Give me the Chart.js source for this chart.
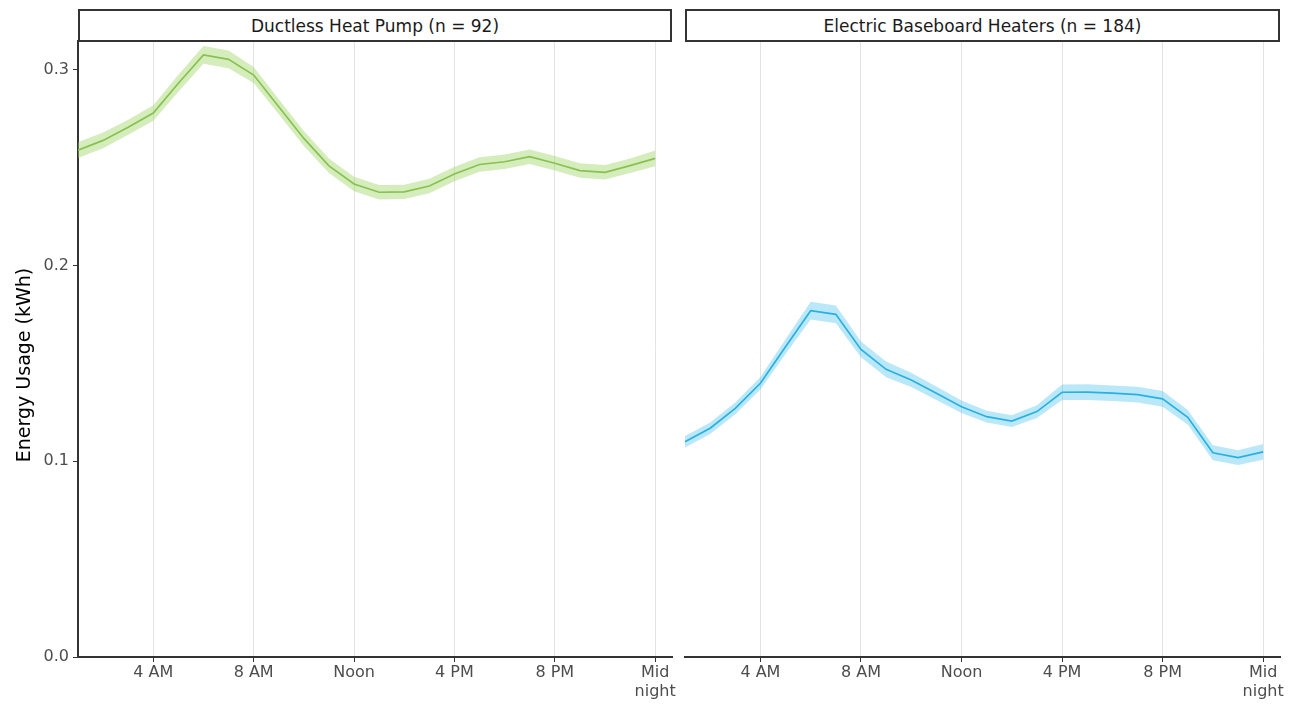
<!DOCTYPE html>
<html>
<head>
<meta charset="utf-8">
<script src="https://cdn.jsdelivr.net/npm/chart.js@4"></script>
<style>
  html, body { margin:0; padding:0; background:#fff; width:1299px; height:704px; overflow:hidden; }
  .wrap { position:absolute; top:0; height:704px; }
  .strip { position:absolute; top:9px; height:29px; border:2px solid #333; background:#fff;
           font-family:"DejaVu Sans", sans-serif; font-size:17px; color:#1a1a1a;
           display:flex; align-items:center; justify-content:center; box-sizing:content-box; }
</style>
</head>
<body>
<div class="wrap" style="left:0;width:680px;"><canvas id="c1" width="680" height="704"></canvas></div>
<div class="wrap" style="left:680px;width:619px;"><canvas id="c2" width="619" height="704"></canvas></div>
<div class="strip" id="s1" style="left:78px;width:590px;"></div>
<div class="strip" id="s2" style="left:685px;width:591px;"></div>
<script>
// ---- data ----
const panelTitles = ["Ductless Heat Pump (n = 92)", "Electric Baseboard Heaters (n = 184)"];
const yTitle = "Energy Usage (kWh)";
const hours = [1,2,3,4,5,6,7,8,9,10,11,12,13,14,15,16,17,18,19,20,21,22,23,24];
const tickHours = [4, 8, 12, 16, 20, 24];
const tickLabels = ["4 AM", "8 AM", "Noon", "4 PM", "8 PM", ["Mid", "night"]];
const yTicks = [0, 0.1, 0.2, 0.3];

const heatPumpMean  = [0.259,0.264,0.2707,0.278,0.2932,0.3077,0.3054,0.2974,0.2812,0.265,0.251,0.2417,0.2375,0.2377,0.2407,0.2468,0.2517,0.2531,0.2557,0.2523,0.2486,0.2477,0.2511,0.2548];
const heatPumpUpper = [0.263,0.268,0.2745,0.282,0.2975,0.3122,0.3099,0.3015,0.285,0.2688,0.2547,0.2454,0.2412,0.2414,0.2444,0.2505,0.2554,0.2568,0.2594,0.256,0.2523,0.2514,0.2548,0.2588];
const heatPumpLower = [0.255,0.260,0.2669,0.274,0.2889,0.3032,0.3009,0.2933,0.2774,0.2612,0.2473,0.238,0.2338,0.234,0.237,0.2431,0.248,0.2494,0.252,0.2486,0.2449,0.244,0.2474,0.2508];

const baseboardMean  = [0.110,0.1169,0.1271,0.1399,0.1586,0.177,0.1751,0.1572,0.147,0.1416,0.1348,0.1279,0.1228,0.1206,0.1254,0.1353,0.1354,0.1348,0.1341,0.1319,0.1225,0.1044,0.1019,0.1048];
const baseboardUpper = [0.113,0.1199,0.1301,0.1431,0.1624,0.1815,0.1796,0.1612,0.151,0.1452,0.1382,0.1311,0.1258,0.1236,0.1286,0.1393,0.1394,0.1388,0.1381,0.1359,0.1262,0.1082,0.1057,0.1088];
const baseboardLower = [0.107,0.1139,0.1241,0.1367,0.1548,0.1725,0.1706,0.1532,0.143,0.138,0.1314,0.1247,0.1198,0.1176,0.1222,0.1313,0.1314,0.1308,0.1301,0.1279,0.1188,0.1006,0.0981,0.1008];

document.getElementById('s1').textContent = panelTitles[0];
document.getElementById('s2').textContent = panelTitles[1];

const FONT = '"DejaVu Sans", sans-serif';
const pts = arr => hours.map((h, i) => ({x: h, y: arr[i]}));

const yTitlePlugin = {
  id: 'yTitlePlugin',
  afterDraw(chart, args, opts) {
    if (!opts.show) return;
    const ctx = chart.ctx;
    ctx.save();
    ctx.translate(25, 365);
    ctx.rotate(-Math.PI / 2);
    ctx.font = '19px ' + FONT;
    ctx.fillStyle = '#000';
    ctx.textAlign = 'center';
    ctx.textBaseline = 'middle';
    ctx.fillText(yTitle, 0, 0);
    ctx.restore();
  }
};

function makeChart(id, mean, upper, lower, lineColor, ribbonColor, showY, padding) {
  return new Chart(document.getElementById(id), {
    type: 'line',
    data: {
      datasets: [
        { data: pts(upper), borderWidth: 0, pointRadius: 0, fill: false, backgroundColor: ribbonColor, borderColor: 'transparent' },
        { data: pts(lower), borderWidth: 0, pointRadius: 0, fill: '-1', backgroundColor: ribbonColor, borderColor: 'transparent' },
        { data: pts(mean), borderWidth: 1.7, pointRadius: 0, fill: false, borderColor: lineColor }
      ]
    },
    plugins: [yTitlePlugin],
    options: {
      responsive: false,
      animation: false,
      layout: { padding: padding },
      plugins: { legend: { display: false }, tooltip: { enabled: false }, yTitlePlugin: { show: showY } },
      scales: {
        x: {
          type: 'linear', min: 1, max: 24.67,
          afterBuildTicks: s => { s.ticks = tickHours.map(v => ({value: v})); },
          afterFit: s => { s.height = 47; },
          ticks: {
            autoSkip: false, maxRotation: 0, padding: 1,
            font: { family: FONT, size: 16, lineHeight: 1.2 }, color: '#4d4d4d',
            callback: (v) => tickLabels[tickHours.indexOf(v)]
          },
          grid: { color: '#e3e3e3', lineWidth: 1, drawTicks: true, tickLength: 5, tickColor: '#333' },
          border: { display: true, color: '#333', width: 2 }
        },
        y: {
          display: showY,
          min: 0, max: 0.3148,
          afterBuildTicks: s => { s.ticks = yTicks.map(v => ({value: v})); },
          afterFit: s => { if (showY) s.width = 78; },
          ticks: {
            font: { family: FONT, size: 16 }, color: '#4d4d4d', padding: 4,
            callback: v => v.toFixed(1)
          },
          grid: { drawOnChartArea: false, drawTicks: true, tickLength: 5, tickColor: '#333' },
          border: { display: true, color: '#333', width: 2 }
        }
      }
    }
  });
}

makeChart('c1', heatPumpMean, heatPumpUpper, heatPumpLower, '#79b443', 'rgba(155,212,95,0.42)', true,
          { top: 41, left: 0, right: 8, bottom: 0 });
makeChart('c2', baseboardMean, baseboardUpper, baseboardLower, '#1ea8da', 'rgba(64,190,236,0.36)', false,
          { top: 41, left: 5, right: 19, bottom: 0 });
</script>
</body>
</html>
